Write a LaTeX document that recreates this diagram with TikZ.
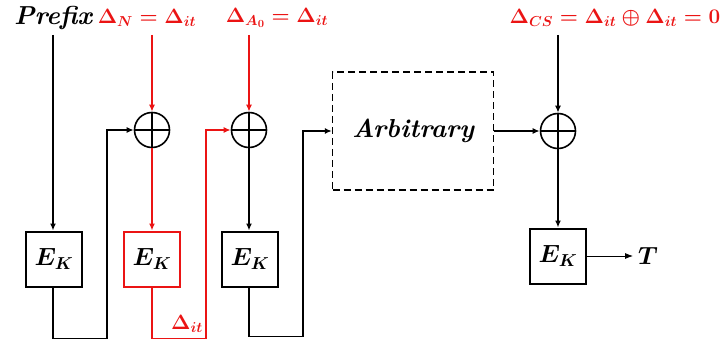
\documentclass[tikz,border=0pt]{standalone}
\usepackage{amsmath,bm}
\usetikzlibrary{arrows.meta}
\definecolor{dred}{RGB}{235,20,20}
\begin{document}
\begin{tikzpicture}[x=1pt,y=-1pt,
  font=\fontsize{26}{30}\selectfont\boldmath,
  wire/.style={line width=1.6pt,-{Latex[length=7pt,width=6pt]}},
  ekbox/.style={draw,line width=2pt,minimum width=56pt,minimum height=55pt,inner sep=0pt},
  xorn/.style={circle,draw,line width=1.6pt,minimum size=35pt,inner sep=0pt,
    path picture={\draw[line width=1.6pt] (path picture bounding box.north) -- (path picture bounding box.south)
      (path picture bounding box.west) -- (path picture bounding box.east);}},
  lbl/.style={inner sep=0pt},
  dlbl/.style={inner sep=0pt,text=dred,font=\fontsize{22.5}{26}\selectfont\boldmath}]
\useasboundingbox (0,0) rectangle (725,339);
% labels
\node[lbl] (pre) at (53,18) {\bfseries\itshape Prefix};
\node[dlbl] (dn) at (147,18) {$\mathbf{\Delta}_{N}=\mathbf{\Delta}_{it}$};
\node[dlbl] (da) at (277,18) {$\mathbf{\Delta}_{A_0}=\mathbf{\Delta}_{it}$};
\node[dlbl] (dcs) at (615,18) {$\mathbf{\Delta}_{CS}=\mathbf{\Delta}_{it}\oplus\mathbf{\Delta}_{it}=\mathbf{0}$};
\coordinate (t1) at (53,35);
\coordinate (t2) at (152,35);
\coordinate (t3) at (249,35);
\coordinate (t4) at (558,35);
% blocks
\node[ekbox] (e1) at (54,259) {$E_K$};
\node[ekbox,draw=dred] (e2) at (152,259) {$E_K$};
\node[ekbox] (e3) at (250,259) {$E_K$};
\node[ekbox] (e4) at (558,256) {$E_K$};
\node[xorn] (x1) at (152,130) {};
\node[xorn] (x2) at (249,130) {};
\node[xorn] (x3) at (558,131) {};
\node[draw,dashed,line width=1.3pt,minimum width=161pt,minimum height=118pt,inner sep=0pt,
  dash pattern=on 7pt off 4pt] (arb) at (413,131) {\bfseries\itshape Arbitrary};
\node[lbl] (T) at (648,256) {$T$};
\node[dlbl] (dit) at (187,324) {$\mathbf{\Delta}_{it}$};
% wires
\draw[wire] (t1) -- (e1.north -| t1);
\draw[wire,dred] (t2) -- (x1.north);
\draw[wire,dred] (x1.south) -- (e2.north);
\draw[wire,dred] (t3) -- (x2.north);
\draw[wire] (x2.south) -- (e3.north -| x2);
\draw[wire] (t4) -- (x3.north);
\draw[wire] (x3.south) -- (e4.north);
\draw[wire] (e1.south -| t1) -- ++(0,51) -| (107,130) -- (x1.west);
\draw[wire,dred] (e2.south) -- ++(0,51) -| (206,130) -- (x2.west);
\draw[wire] (e3.south -| x2) -- ++(0,49) -| (303,131) -- (arb.west);
\draw[wire] (arb.east) -- (x3.west);
\draw[line width=0.8pt,-{Latex[length=8pt,width=6pt]}] (e4.east) -- (633,256);
\end{tikzpicture}
\end{document}
